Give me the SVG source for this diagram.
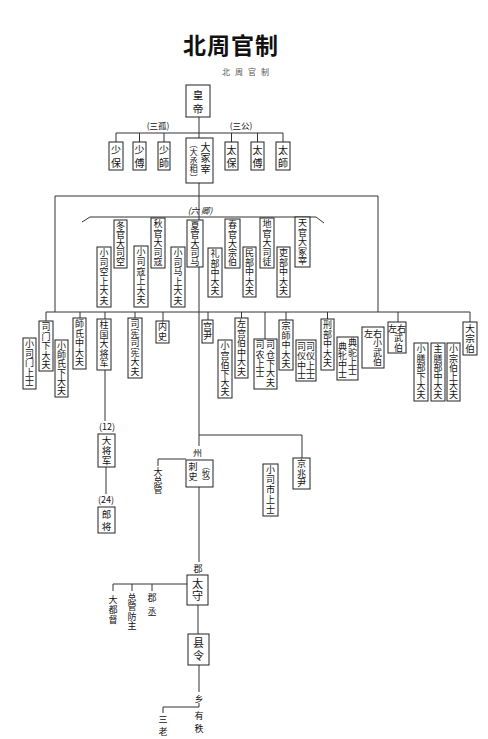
<svg xmlns="http://www.w3.org/2000/svg" width="488" height="739" viewBox="0 0 488 739">
<style>
text{font-family:"Noto Sans CJK SC","Noto Sans CJK TC",sans-serif;fill:#111;text-anchor:middle}
.v{writing-mode:vertical-rl;text-anchor:start;font-size:9px}
.b{fill:#fff;stroke:#222;stroke-width:1}
.c line,.c polyline{stroke:#333;stroke-width:1;fill:none}
.s9{font-size:9px}.s8{font-size:8.5px}
</style>
<rect width="488" height="739" fill="#fff"/>
<text x="231" y="54" style="font-size:23px;font-weight:bold;letter-spacing:1px">北周官制</text>
<text x="248" y="75" style="font-size:8px;fill:#555;letter-spacing:5px">北周官制</text>
<g class="c" id="connectors">
<line x1="199" y1="117" x2="199" y2="138"/>
<line x1="116" y1="133" x2="283" y2="133"/>
<line x1="116" y1="133" x2="116" y2="142"/><line x1="139.5" y1="133" x2="139.5" y2="142"/><line x1="164" y1="133" x2="164" y2="142"/>
<line x1="231.5" y1="133" x2="231.5" y2="142"/><line x1="257.5" y1="133" x2="257.5" y2="142"/><line x1="283" y1="133" x2="283" y2="142"/>
<line x1="199" y1="183" x2="199" y2="446"/>
<line x1="55" y1="196" x2="378" y2="196"/>
<line x1="55" y1="196" x2="55" y2="312"/><line x1="378" y1="196" x2="378" y2="312"/>
<polyline points="82,222 90,217 316,217 324,223"/>
<line x1="46" y1="312" x2="470" y2="312"/>
<line x1="46" y1="312" x2="46" y2="321"/><line x1="80" y1="312" x2="80" y2="318"/><line x1="105" y1="312" x2="105" y2="319"/>
<line x1="135" y1="312" x2="135" y2="318"/><line x1="163" y1="312" x2="163" y2="321"/><line x1="208" y1="312" x2="208" y2="320"/>
<line x1="241.5" y1="312" x2="241.5" y2="318"/><line x1="265" y1="312" x2="265" y2="339"/><line x1="286" y1="312" x2="286" y2="320"/>
<line x1="327.5" y1="312" x2="327.5" y2="319"/><line x1="398" y1="312" x2="398" y2="322"/><line x1="470" y1="312" x2="470" y2="322"/>
<line x1="105" y1="370" x2="105" y2="421"/><line x1="106" y1="467" x2="106" y2="494"/>
<line x1="199" y1="435" x2="302" y2="435"/><line x1="302" y1="435" x2="302" y2="458"/>
<line x1="158" y1="459" x2="186" y2="459"/><line x1="158" y1="459" x2="158" y2="466"/>
<line x1="199" y1="487" x2="199" y2="562"/>
<line x1="198" y1="605" x2="198" y2="634"/>
<line x1="113" y1="584" x2="187" y2="584"/>
<line x1="113" y1="584" x2="113" y2="591"/><line x1="132" y1="584" x2="132" y2="591"/><line x1="152" y1="584" x2="152" y2="591"/>
<line x1="199" y1="665" x2="199" y2="692"/>
<line x1="199" y1="703" x2="199" y2="707"/><line x1="163" y1="707" x2="199" y2="707"/><line x1="163" y1="707" x2="163" y2="713"/>
</g>
<g id="huangdi"><rect class="b" x="186" y="85" width="24" height="32"/><text class="v" x="198" y="89.5" style="font-size:10.5px;letter-spacing:3.5px">皇帝</text></g>
<text class="s8" x="158" y="129">(三孤)</text>
<text class="s8" x="241" y="129">(三公)</text>
<g id="shaobao"><rect class="b" x="109" y="142" width="14" height="28"/><text class="v" x="116" y="145.5" style="font-size:10px;letter-spacing:2.5px">少保</text></g>
<g id="shaofu"><rect class="b" x="133" y="142" width="13" height="28"/><text class="v" x="139.5" y="145.5" style="font-size:10px;letter-spacing:2.5px">少傅</text></g>
<g id="shaoshi"><rect class="b" x="158" y="142" width="12" height="28"/><text class="v" x="164" y="145.5" style="font-size:10px;letter-spacing:2.5px">少師</text></g>
<g id="dazongzai"><rect class="b" x="186" y="138" width="27" height="45"/>
<text class="v" x="205.5" y="142" style="font-size:10px;letter-spacing:1px">大冢宰</text>
<text class="v" x="193.5" y="139.5" style="font-size:8.2px;letter-spacing:0.3px">（大丞相）</text></g>
<g id="taibao"><rect class="b" x="225" y="142" width="13" height="28"/><text class="v" x="231.5" y="145.5" style="font-size:10px;letter-spacing:2.5px">太保</text></g>
<g id="taifu"><rect class="b" x="251" y="142" width="13" height="28"/><text class="v" x="257.5" y="145.5" style="font-size:10px;letter-spacing:2.5px">太傅</text></g>
<g id="taishi"><rect class="b" x="276" y="142" width="14" height="28"/><text class="v" x="283" y="145.5" style="font-size:10px;letter-spacing:2.5px">太師</text></g>
<text class="s8" x="200" y="214" style="font-style:italic">(六 卿)</text>
<g id="dongguan"><rect class="b" x="114" y="220" width="13" height="48"/><text class="v" x="120.5" y="221.5">冬官大司空</text></g>
<g id="xiaosikong"><rect class="b" x="97" y="247" width="14" height="60"/><text class="v" x="104" y="248.5" style="letter-spacing:0.5px">小司空上大夫</text></g>
<g id="qiuguan"><rect class="b" x="151" y="218" width="14" height="50"/><text class="v" x="158" y="219.5" style="letter-spacing:0.4px">秋官大司寇</text></g>
<g id="xiaosikou"><rect class="b" x="134" y="246" width="14" height="61"/><text class="v" x="141" y="247.5" style="letter-spacing:0.6px">小司寇上大夫</text></g>
<g id="xiaguan"><rect class="b" x="187" y="220" width="16" height="47"/><text class="v" x="195" y="221">夏官大司马</text></g>
<g id="xiaosima"><rect class="b" x="171" y="247" width="14" height="60"/><text class="v" x="178" y="248.5" style="letter-spacing:0.5px">小司马上大夫</text></g>
<g id="chunguan"><rect class="b" x="225" y="219" width="15" height="49"/><text class="v" x="232.5" y="220.5" style="letter-spacing:0.2px">春官大宗伯</text></g>
<g id="libu"><rect class="b" x="208" y="248" width="14" height="49"/><text class="v" x="215" y="249.5" style="letter-spacing:0.2px">礼部中大夫</text></g>
<g id="diguan"><rect class="b" x="260" y="218" width="14" height="50"/><text class="v" x="267" y="219.5" style="letter-spacing:0.4px">地官大司徒</text></g>
<g id="minbu"><rect class="b" x="243" y="247" width="13" height="50"/><text class="v" x="249.5" y="248.5" style="letter-spacing:0.4px">民部中大夫</text></g>
<g id="tianguan"><rect class="b" x="295" y="217" width="15" height="50"/><text class="v" x="302.5" y="218.5" style="letter-spacing:0.4px">天官大冢宰</text></g>
<g id="libu2"><rect class="b" x="277" y="247" width="13" height="50"/><text class="v" x="283.5" y="248.5" style="letter-spacing:0.4px">吏部中大夫</text></g>
<g id="simen"><rect class="b" x="39" y="321" width="14" height="50"/><text class="v" x="46" y="322.5" style="letter-spacing:0.4px">司门下大夫</text></g>
<g id="xiaosimen"><rect class="b" x="23" y="338" width="13" height="51"/><text class="v" x="29.5" y="339.5" style="letter-spacing:0.5px">小司门上士</text></g>
<g id="xiaoshishi"><rect class="b" x="55" y="340" width="13" height="57"/><text class="v" x="61.5" y="341.5">小師氏下大夫</text></g>
<g id="shishi"><rect class="b" x="73" y="318" width="13" height="51"/><text class="v" x="79.5" y="319.5" style="letter-spacing:0.5px">師氏中大夫</text></g>
<g id="zhuguo"><rect class="b" x="97" y="319" width="14" height="51"/><text class="v" x="104" y="320.5" style="letter-spacing:0.5px">柱国大将军</text></g>
<g id="sixian"><rect class="b" x="128" y="318" width="14" height="60"/><text class="v" x="135" y="319.5" style="letter-spacing:0.5px">司宪司宪大夫</text></g>
<g id="neishi"><rect class="b" x="156" y="321" width="13" height="22"/><text class="v" x="162.5" y="322.5" style="letter-spacing:0.5px">内史</text></g>
<g id="gongyin"><rect class="b" x="202" y="320" width="11" height="23"/><text class="v" x="207.5" y="322" style="letter-spacing:0.5px">宫尹</text></g>
<g id="xiaogongbo"><rect class="b" x="218" y="340" width="14" height="58"/><text class="v" x="225" y="341.5" style="letter-spacing:0.2px">小宫伯下大夫</text></g>
<g id="zuogongbo"><rect class="b" x="235" y="318" width="13" height="60"/><text class="v" x="241.5" y="319.5" style="letter-spacing:0.5px">左宫伯中大夫</text></g>
<g id="sicang"><rect class="b" x="254" y="339" width="23" height="50"/><text class="v" x="270.5" y="340.5" style="letter-spacing:0.3px">司仓下大夫</text><text class="v" x="260" y="340.5" style="letter-spacing:0.3px">司农上士</text></g>
<g id="zongshi"><rect class="b" x="279" y="320" width="14" height="50"/><text class="v" x="286" y="321.5" style="letter-spacing:0.4px">宗師中大夫</text></g>
<g id="siyi"><rect class="b" x="296" y="340" width="20" height="41"/><text class="v" x="310.5" y="342" style="letter-spacing:0.3px">司仪上士</text><text class="v" x="301.5" y="342" style="letter-spacing:0.3px">司仪中士</text></g>
<g id="xingbu"><rect class="b" x="321" y="319" width="13" height="51"/><text class="v" x="327.5" y="320.5" style="letter-spacing:0.5px">刑部中大夫</text></g>
<g id="diantuo"><rect class="b" x="337" y="337" width="21" height="43"/><text class="v" x="352.5" y="338.5" style="letter-spacing:0.3px">典驼上士</text><text class="v" x="342.5" y="342.5">典牝中士</text></g>
<g id="xiaowubo"><rect class="b" x="362" y="327" width="22" height="41"/><text class="s9" x="373" y="336.5">左右</text><text class="v" x="377.5" y="338.5" style="letter-spacing:0.5px">小武伯</text></g>
<g id="wubo"><rect class="b" x="388" y="322" width="18" height="31"/><text class="s9" x="397" y="331.5">左右</text><text class="v" x="398.5" y="333.5" style="letter-spacing:0.5px">武伯</text></g>
<g id="xiaoshanbu"><rect class="b" x="414" y="343" width="14" height="58"/><text class="v" x="421" y="344.5" style="letter-spacing:0.2px">小膳部下大夫</text></g>
<g id="zhushanbu"><rect class="b" x="431" y="343" width="14" height="58"/><text class="v" x="438" y="344.5" style="letter-spacing:0.2px">主膳部中大夫</text></g>
<g id="xiaozongbo"><rect class="b" x="447" y="343" width="13" height="58"/><text class="v" x="453.5" y="344.5" style="letter-spacing:0.2px">小宗伯上大夫</text></g>
<g id="dazongbo"><rect class="b" x="463" y="322" width="14" height="33"/><text class="v" x="470" y="323.5" style="font-size:9.6px;letter-spacing:0.4px">大宗伯</text></g>
<text class="s9" x="107" y="430">(12)</text>
<g id="dajiangjun"><rect class="b" x="98" y="434" width="17" height="33"/><text class="v" x="106.5" y="435.5" style="font-size:9.6px;letter-spacing:0.4px">大将军</text></g>
<text class="s9" x="106" y="503">(24)</text>
<g id="langjiang"><rect class="b" x="98" y="507" width="17" height="26"/><text class="v" x="106.5" y="509.5" style="font-size:9.6px;letter-spacing:2px">郎将</text></g>
<g id="jingzhaoyin"><rect class="b" x="293" y="458" width="17" height="31"/><text class="v" x="301.5" y="459.5" style="letter-spacing:0.3px">京兆尹</text></g>
<g id="xiaosishi"><rect class="b" x="263" y="464" width="15" height="52"/><text class="v" x="270.5" y="465.5" style="letter-spacing:0.8px">小司市上士</text></g>
<text class="s9" x="197.5" y="456">州</text>
<g id="cishi"><rect class="b" x="186" y="460" width="27" height="27"/><text class="v" x="193" y="462.5" style="letter-spacing:1px">刺史</text><text class="v" x="206" y="461.5" style="font-size:8px">（牧）</text></g>
<text class="v" x="158" y="467.5" style="letter-spacing:-0.3px">大总管</text>
<text class="s9" x="198" y="572">郡</text>
<g id="taishou"><rect class="b" x="187" y="575" width="21" height="30"/><text class="v" x="197.5" y="578" style="font-size:11px;letter-spacing:1.5px">太守</text></g>
<text class="v" x="113" y="595" style="letter-spacing:1px">大都督</text>
<text class="v" x="132" y="593" style="letter-spacing:0.5px">总管防主</text>
<text class="v" x="152" y="593" style="letter-spacing:5px">郡丞</text>
<g id="xianling"><rect class="b" x="188" y="634" width="21" height="31"/><text class="v" x="198.5" y="637" style="font-size:11px;letter-spacing:2px">县令</text></g>
<text class="s9" x="199" y="702">乡</text>
<g id="sanlao"><text class="v" x="163" y="715">三</text><text class="v" x="163" y="727.5">老</text></g>
<g id="youzhi"><text class="v" x="199" y="711.5">有</text><text class="v" x="199" y="724.5">秩</text></g>
</svg>
